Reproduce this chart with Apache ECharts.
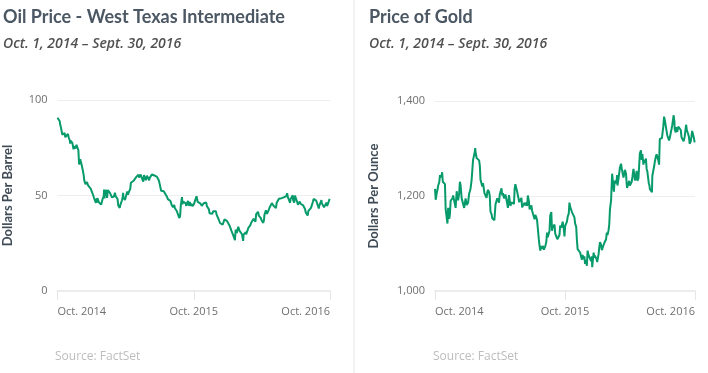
<!DOCTYPE html>
<html><head><meta charset="utf-8">
<script src="https://cdn.jsdelivr.net/npm/echarts@6/dist/echarts.min.js"></script>
<style>html,body{margin:0;padding:0;background:#fff}#c{width:708px;height:373px}</style>
</head><body><div id="c"></div>
<script>
const xTickLabels = ['Oct. 2014', 'Oct. 2015', 'Oct. 2016'];
const oilTicks = [0, 50, 100];
const goldTicks = [1000, 1200, 1400];

const oilDates = ['2014-10-01','2014-10-02','2014-10-03','2014-10-06','2014-10-07','2014-10-08','2014-10-10','2014-10-13','2014-10-14','2014-10-15','2014-10-16','2014-10-17','2014-10-20','2014-10-22','2014-10-24','2014-10-27','2014-10-29','2014-10-31','2014-11-03','2014-11-04','2014-11-06','2014-11-07','2014-11-10','2014-11-12','2014-11-13','2014-11-14','2014-11-18','2014-11-20','2014-11-21','2014-11-24','2014-11-26','2014-11-28','2014-12-01','2014-12-03','2014-12-05','2014-12-08','2014-12-10','2014-12-12','2014-12-15','2014-12-17','2014-12-19','2014-12-22','2014-12-24','2014-12-26','2014-12-29','2014-12-31',
'2015-01-02','2015-01-05','2015-01-07','2015-01-09','2015-01-12','2015-01-13','2015-01-14','2015-01-15','2015-01-16','2015-01-20','2015-01-22','2015-01-23','2015-01-26','2015-01-29','2015-01-30','2015-02-02','2015-02-03','2015-02-04','2015-02-06','2015-02-09','2015-02-11','2015-02-13','2015-02-17','2015-02-19','2015-02-20','2015-02-24','2015-02-26','2015-02-27','2015-03-02','2015-03-04','2015-03-06','2015-03-09','2015-03-11','2015-03-13','2015-03-16','2015-03-17','2015-03-18','2015-03-20','2015-03-23','2015-03-25','2015-03-26','2015-03-27','2015-03-31','2015-04-02','2015-04-06','2015-04-08','2015-04-10','2015-04-14','2015-04-16','2015-04-17','2015-04-21','2015-04-23','2015-04-24','2015-04-28','2015-04-30','2015-05-01','2015-05-05','2015-05-06','2015-05-08','2015-05-12','2015-05-14','2015-05-15','2015-05-19','2015-05-21','2015-05-22','2015-05-26','2015-05-28','2015-05-29','2015-06-02','2015-06-04','2015-06-05','2015-06-09','2015-06-11','2015-06-12','2015-06-16','2015-06-18','2015-06-19','2015-06-23','2015-06-25','2015-06-26','2015-06-29','2015-07-01','2015-07-02','2015-07-06','2015-07-08','2015-07-10','2015-07-13','2015-07-15','2015-07-17','2015-07-20','2015-07-22','2015-07-24','2015-07-27','2015-07-29','2015-07-31','2015-08-03','2015-08-05','2015-08-07','2015-08-10','2015-08-12','2015-08-14','2015-08-17','2015-08-19','2015-08-21','2015-08-24','2015-08-26','2015-08-27','2015-08-28','2015-08-31','2015-09-01','2015-09-03','2015-09-04','2015-09-08','2015-09-10','2015-09-11','2015-09-14','2015-09-16','2015-09-18','2015-09-21','2015-09-23','2015-09-25','2015-09-28','2015-09-30','2015-10-02','2015-10-05','2015-10-07','2015-10-09','2015-10-12','2015-10-14','2015-10-16','2015-10-19','2015-10-21','2015-10-23','2015-10-26','2015-10-28','2015-10-30','2015-11-02','2015-11-04','2015-11-06','2015-11-09','2015-11-11','2015-11-13','2015-11-16','2015-11-18','2015-11-20','2015-11-23','2015-11-25','2015-11-27','2015-11-30','2015-12-02','2015-12-04','2015-12-07','2015-12-09','2015-12-11','2015-12-14','2015-12-16','2015-12-18','2015-12-21','2015-12-23','2015-12-28','2015-12-30','2015-12-31',
'2016-01-04','2016-01-06','2016-01-08','2016-01-11','2016-01-13','2016-01-15','2016-01-19','2016-01-20','2016-01-21','2016-01-22','2016-01-25','2016-01-27','2016-01-28','2016-01-29','2016-02-01','2016-02-03','2016-02-05','2016-02-08','2016-02-10','2016-02-11','2016-02-12','2016-02-16','2016-02-18','2016-02-19','2016-02-23','2016-02-25','2016-02-26','2016-03-01','2016-03-03','2016-03-04','2016-03-08','2016-03-10','2016-03-11','2016-03-15','2016-03-17','2016-03-18','2016-03-22','2016-03-24','2016-03-29','2016-03-31','2016-04-01','2016-04-05','2016-04-07','2016-04-08','2016-04-12','2016-04-14','2016-04-15','2016-04-18','2016-04-20','2016-04-22','2016-04-26','2016-04-28','2016-04-29','2016-05-02','2016-05-04','2016-05-06','2016-05-09','2016-05-11','2016-05-13','2016-05-17','2016-05-19','2016-05-20','2016-05-24','2016-05-26','2016-05-27','2016-05-31','2016-06-02','2016-06-03','2016-06-06','2016-06-08','2016-06-10','2016-06-14','2016-06-16','2016-06-17','2016-06-21','2016-06-23','2016-06-24','2016-06-27','2016-06-29','2016-07-01','2016-07-05','2016-07-07','2016-07-08','2016-07-12','2016-07-14','2016-07-15','2016-07-19','2016-07-21','2016-07-22','2016-07-26','2016-07-28','2016-07-29','2016-08-02','2016-08-04','2016-08-05','2016-08-09','2016-08-11','2016-08-12','2016-08-16','2016-08-18','2016-08-19','2016-08-23','2016-08-25','2016-08-26','2016-08-30','2016-09-01','2016-09-02','2016-09-06','2016-09-08','2016-09-09','2016-09-13','2016-09-15','2016-09-16','2016-09-20','2016-09-22','2016-09-23','2016-09-26','2016-09-28','2016-09-30'];
const oilValues = [90.7,91.0,89.7,90.3,88.9,87.3,85.8,85.7,81.8,81.8,82.7,82.8,82.7,80.5,81.0,81.0,82.2,80.5,78.8,77.2,78.7,78.7,77.4,77.2,74.2,75.8,74.6,75.6,76.5,75.8,73.7,66.2,69.0,67.4,65.8,63.1,60.9,57.8,55.9,56.5,57.1,55.3,55.8,54.7,53.6,53.3,
52.7,50.0,48.7,48.4,46.1,45.9,48.5,46.3,48.7,46.4,46.3,45.6,45.2,44.5,48.2,49.6,53.1,48.5,51.7,52.9,48.8,52.8,53.5,51.2,50.3,49.0,48.2,49.8,49.6,51.5,49.6,50.0,48.2,44.8,43.9,43.5,44.7,45.7,47.5,49.2,51.4,48.9,47.6,49.1,52.1,50.4,51.6,53.3,56.7,55.7,56.6,57.7,57.2,57.1,59.6,59.2,60.4,60.9,59.4,61.0,59.9,59.7,57.3,60.7,59.7,58.0,57.7,60.3,61.3,58.0,59.1,60.1,61.0,60.0,60.0,60.5,59.6,61.0,59.7,59.6,58.3,57.0,56.9,52.5,51.7,52.7,52.2,51.4,50.9,50.2,49.2,48.1,47.4,48.8,47.1,45.2,45.2,43.9,45.0,43.3,42.5,41.9,40.8,40.5,38.2,39.3,42.6,45.2,49.2,45.4,46.8,46.1,45.9,45.9,44.6,44.0,47.2,44.7,46.7,44.5,45.7,44.4,45.1,45.5,46.3,48.5,49.6,46.7,46.6,47.3,45.9,45.2,44.6,44.0,45.9,46.6,46.1,46.3,44.3,44.0,42.9,40.7,41.7,40.7,40.4,41.8,42.0,41.7,41.7,39.9,40.0,37.7,37.2,35.6,36.3,35.5,34.7,34.7,37.5,36.8,36.6,37.0,
36.8,34.0,33.2,31.4,30.5,29.4,28.5,26.6,29.5,32.2,30.3,32.3,33.2,33.6,31.6,32.3,30.9,29.7,27.5,26.2,29.4,29.0,30.8,29.6,31.9,33.1,32.8,34.4,34.6,35.9,36.5,37.8,38.5,36.3,40.2,39.4,41.5,39.5,38.3,38.3,36.8,35.7,37.3,39.7,42.2,41.5,40.4,39.8,42.6,43.7,44.0,46.0,45.9,44.8,43.8,44.7,43.4,46.2,46.2,48.3,48.5,47.8,48.6,49.5,49.3,49.1,49.2,48.6,49.7,51.2,49.1,48.5,46.2,48.0,48.9,50.1,47.6,46.3,49.9,49.0,46.6,45.1,45.4,46.8,45.7,46.0,44.7,44.8,44.2,42.9,41.1,41.6,39.5,41.9,41.8,42.8,43.5,44.5,46.6,48.2,48.5,48.1,47.3,47.6,46.4,43.2,44.4,44.8,47.6,45.9,44.9,43.9,43.0,43.9,46.3,44.5,45.9,47.1,48.2];

const goldDates = ['2014-10-01','2014-10-02','2014-10-03','2014-10-06','2014-10-08','2014-10-10','2014-10-13','2014-10-14','2014-10-15','2014-10-17','2014-10-20','2014-10-21','2014-10-23','2014-10-24','2014-10-27','2014-10-29','2014-10-30','2014-10-31','2014-11-03','2014-11-05','2014-11-07','2014-11-10','2014-11-12','2014-11-14','2014-11-17','2014-11-19','2014-11-21','2014-11-24','2014-11-26','2014-11-28','2014-12-01','2014-12-03','2014-12-05','2014-12-08','2014-12-10','2014-12-12','2014-12-15','2014-12-17','2014-12-19','2014-12-22','2014-12-24','2014-12-26','2014-12-29','2014-12-31',
'2015-01-02','2015-01-05','2015-01-07','2015-01-09','2015-01-12','2015-01-14','2015-01-16','2015-01-19','2015-01-21','2015-01-22','2015-01-23','2015-01-26','2015-01-28','2015-01-30','2015-02-02','2015-02-04','2015-02-06','2015-02-09','2015-02-11','2015-02-13','2015-02-17','2015-02-19','2015-02-20','2015-02-23','2015-02-25','2015-02-27','2015-03-02','2015-03-04','2015-03-06','2015-03-09','2015-03-11','2015-03-13','2015-03-17','2015-03-19','2015-03-20','2015-03-23','2015-03-25','2015-03-27','2015-03-30','2015-04-01','2015-04-02','2015-04-06','2015-04-08','2015-04-10','2015-04-13','2015-04-15','2015-04-17','2015-04-20','2015-04-22','2015-04-24','2015-04-27','2015-04-29','2015-05-01','2015-05-04','2015-05-06','2015-05-08','2015-05-11','2015-05-13','2015-05-15','2015-05-18','2015-05-20','2015-05-22','2015-05-26','2015-05-28','2015-05-29','2015-06-01','2015-06-03','2015-06-05','2015-06-08','2015-06-10','2015-06-12','2015-06-15','2015-06-17','2015-06-19','2015-06-22','2015-06-24','2015-06-26','2015-06-29','2015-07-01','2015-07-02','2015-07-06','2015-07-08','2015-07-10','2015-07-13','2015-07-15','2015-07-17','2015-07-20','2015-07-22','2015-07-24','2015-07-27','2015-07-29','2015-07-31','2015-08-03','2015-08-05','2015-08-07','2015-08-10','2015-08-12','2015-08-14','2015-08-17','2015-08-19','2015-08-21','2015-08-24','2015-08-26','2015-08-28','2015-08-31','2015-09-02','2015-09-04','2015-09-08','2015-09-10','2015-09-11','2015-09-14','2015-09-16','2015-09-18','2015-09-21','2015-09-23','2015-09-25','2015-09-28','2015-09-30','2015-10-02','2015-10-05','2015-10-07','2015-10-09','2015-10-12','2015-10-14','2015-10-16','2015-10-19','2015-10-21','2015-10-23','2015-10-26','2015-10-28','2015-10-30','2015-11-02','2015-11-04','2015-11-06','2015-11-09','2015-11-11','2015-11-13','2015-11-16','2015-11-18','2015-11-20','2015-11-23','2015-11-25','2015-11-27','2015-11-30','2015-12-02','2015-12-04','2015-12-07','2015-12-09','2015-12-11','2015-12-14','2015-12-16','2015-12-17','2015-12-21','2015-12-23','2015-12-24','2015-12-29','2015-12-31',
'2016-01-04','2016-01-06','2016-01-08','2016-01-11','2016-01-13','2016-01-15','2016-01-18','2016-01-20','2016-01-22','2016-01-25','2016-01-27','2016-01-29','2016-02-01','2016-02-03','2016-02-05','2016-02-08','2016-02-10','2016-02-11','2016-02-12','2016-02-16','2016-02-18','2016-02-19','2016-02-23','2016-02-25','2016-02-26','2016-02-29','2016-03-02','2016-03-04','2016-03-07','2016-03-09','2016-03-11','2016-03-14','2016-03-16','2016-03-18','2016-03-21','2016-03-23','2016-03-24','2016-03-28','2016-03-30','2016-04-01','2016-04-04','2016-04-06','2016-04-08','2016-04-11','2016-04-13','2016-04-15','2016-04-18','2016-04-20','2016-04-22','2016-04-25','2016-04-27','2016-04-29','2016-05-02','2016-05-04','2016-05-06','2016-05-09','2016-05-11','2016-05-13','2016-05-16','2016-05-18','2016-05-20','2016-05-24','2016-05-26','2016-05-27','2016-05-31','2016-06-02','2016-06-03','2016-06-06','2016-06-08','2016-06-10','2016-06-13','2016-06-15','2016-06-17','2016-06-20','2016-06-22','2016-06-24','2016-06-27','2016-06-29','2016-06-30','2016-07-04','2016-07-06','2016-07-08','2016-07-11','2016-07-13','2016-07-15','2016-07-18','2016-07-20','2016-07-22','2016-07-25','2016-07-27','2016-07-29','2016-08-02','2016-08-04','2016-08-05','2016-08-08','2016-08-10','2016-08-12','2016-08-15','2016-08-17','2016-08-19','2016-08-22','2016-08-24','2016-08-26','2016-08-30','2016-09-01','2016-09-02','2016-09-06','2016-09-08','2016-09-09','2016-09-12','2016-09-14','2016-09-16','2016-09-19','2016-09-21','2016-09-23','2016-09-26','2016-09-28','2016-09-30'];
const goldValues = [1215,1213,1192,1207,1213,1222,1229,1233,1244,1239,1245,1250,1230,1231,1229,1225,1199,1172,1168,1142,1175,1152,1162,1190,1188,1195,1201,1197,1197,1175,1210,1208,1191,1206,1230,1222,1195,1194,1196,1175,1174,1195,1181,1184,
1186,1205,1210,1216,1234,1234,1276,1277,1293,1301,1293,1280,1284,1279,1275,1264,1234,1237,1220,1227,1206,1202,1205,1196,1208,1213,1208,1200,1167,1162,1153,1153,1149,1170,1182,1186,1195,1199,1186,1203,1201,1216,1201,1206,1195,1195,1203,1192,1188,1175,1202,1204,1179,1187,1191,1189,1183,1216,1225,1223,1209,1206,1187,1189,1190,1196,1176,1172,1174,1186,1180,1186,1179,1201,1189,1172,1173,1180,1169,1167,1170,1151,1160,1155,1149,1133,1108,1095,1085,1095,1089,1095,1087,1085,1094,1104,1123,1113,1117,1127,1159,1166,1127,1134,1134,1140,1121,1121,1109,1107,1108,1118,1138,1133,1131,1146,1131,1115,1137,1137,1146,1156,1163,1186,1177,1171,1166,1163,1166,1155,1142,1135,1107,1088,1091,1085,1081,1084,1066,1076,1067,1073,1057,1065,1053,1085,1075,1077,1075,1063,1073,1050,1081,1070,1075,1068,1061,
1078,1093,1103,1097,1086,1090,1087,1101,1097,1109,1123,1118,1128,1141,1173,1190,1190,1247,1239,1209,1232,1231,1227,1244,1222,1237,1239,1260,1268,1258,1250,1239,1238,1255,1247,1225,1217,1220,1232,1222,1222,1230,1240,1257,1248,1233,1239,1253,1232,1237,1241,1290,1296,1276,1288,1266,1276,1270,1279,1257,1252,1227,1222,1215,1214,1208,1242,1246,1262,1272,1283,1288,1286,1275,1266,1320,1324,1317,1322,1347,1367,1360,1356,1337,1328,1330,1317,1322,1319,1341,1349,1370,1357,1340,1334,1345,1335,1346,1349,1345,1339,1324,1320,1315,1312,1325,1350,1339,1335,1330,1324,1310,1315,1325,1337,1339,1322,1313];

const START = Date.UTC(2014, 9, 1);
function dayOff(s) { const p = s.split('-').map(Number); return (Date.UTC(p[0], p[1]-1, p[2]) - START) / 86400000; }
const oilData = oilDates.map((d, i) => [dayOff(d), oilValues[i]]);
const goldData = goldDates.map((d, i) => [dayOff(d), goldValues[i]]);

const GREEN = '#079a6a';
const labelFont = { fontFamily: 'Open Sans', fontSize: 11, color: '#6f6f6f' };

function xAxis(gi) {
  return {
    type: 'value', gridIndex: gi, min: 0, max: 731, interval: 365.5,
    axisLine: { show: true, lineStyle: { color: '#ececec', width: 2 } },
    axisTick: { show: true, length: 9, lineStyle: { color: '#e6e6e6', width: 1 } },
    splitLine: { show: false },
    axisLabel: Object.assign({ margin: 15, alignMinLabel: 'left', alignMaxLabel: 'right', showMinLabel: true, showMaxLabel: true,
      formatter: v => xTickLabels[Math.round(v / 365.5)] }, labelFont)
  };
}
function yAxis(gi, ticks, name, gap, fmt) {
  return {
    type: 'value', gridIndex: gi, min: ticks[0], max: ticks[ticks.length-1], interval: ticks[1]-ticks[0],
    name: name, nameLocation: 'middle', nameGap: gap, nameRotate: 90,
    nameTextStyle: { fontFamily: 'Lato', fontWeight: 'bold', fontSize: 13, color: '#3e4a55' },
    axisLine: { show: false }, axisTick: { show: false },
    splitLine: { show: true, lineStyle: { color: '#eeeeee', width: 1 } },
    axisLabel: Object.assign({ margin: 10, formatter: fmt }, labelFont)
  };
}

const titleStyle = { fontFamily: 'Lato', fontWeight: 'bold', fontSize: 18, fill: '#4b5763' };
const subStyle = { fontFamily: 'Open Sans', fontStyle: 'italic', fontWeight: 600, fontSize: 14, fill: '#505050' };

const chart = echarts.init(document.getElementById('c'), null, { renderer: 'canvas' });
chart.setOption({
  animation: false,
  graphic: [
    { type: 'rect', shape: { x: 353, y: 0, width: 2, height: 373 }, style: { fill: '#f3f3f3' } },
    { type: 'text', left: 3, top: 8, style: Object.assign({ text: 'Oil Price - West Texas Intermediate' }, titleStyle) },
    { type: 'text', left: 3, top: 37, style: Object.assign({ text: 'Oct. 1, 2014 – Sept. 30, 2016' }, subStyle) },
    { type: 'text', left: 369, top: 8, style: Object.assign({ text: 'Price of Gold' }, titleStyle) },
    { type: 'text', left: 369, top: 37, style: Object.assign({ text: 'Oct. 1, 2014 – Sept. 30, 2016' }, subStyle) },
    { type: 'text', left: 55, top: 351, style: { text: 'Source: FactSet', fontFamily: 'Open Sans', fontSize: 12, fill: '#bdbdbd' } },
    { type: 'text', left: 433, top: 351, style: { text: 'Source: FactSet', fontFamily: 'Open Sans', fontSize: 12, fill: '#bdbdbd' } }
  ],
  grid: [
    { left: 57.5, top: 100, width: 272.5, height: 191, outerBoundsMode: 'none', containLabel: false },
    { left: 435, top: 101, width: 260, height: 190, outerBoundsMode: 'none', containLabel: false }
  ],
  xAxis: [xAxis(0), xAxis(1)],
  yAxis: [
    yAxis(0, oilTicks, 'Dollars Per Barrel', 43, v => String(v)),
    yAxis(1, goldTicks, 'Dollars Per Ounce', 55, v => v.toLocaleString('en-US'))
  ],
  series: [
    { type: 'line', xAxisIndex: 0, yAxisIndex: 0, data: oilData, showSymbol: false, lineStyle: { color: GREEN, width: 2 }, z: 5 },
    { type: 'line', xAxisIndex: 1, yAxisIndex: 1, data: goldData, showSymbol: false, lineStyle: { color: GREEN, width: 2 }, z: 5 }
  ]
});
</script></body></html>
